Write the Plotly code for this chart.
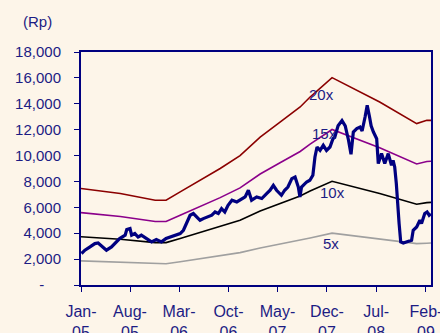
import plotly.graph_objects as go

# --- Share price (Rp) ---
price_dates = [
    "2005-01-03","2005-01-18","2005-02-09","2005-03-02","2005-03-16","2005-04-07","2005-04-21",
    "2005-05-13","2005-05-27","2005-06-17","2005-07-11","2005-07-18","2005-08-01","2005-08-08",
    "2005-08-22","2005-09-05","2005-09-19","2005-10-11","2005-11-02","2005-11-23","2005-12-15",
    "2006-01-04","2006-01-20","2006-02-13","2006-03-06","2006-03-20","2006-04-04","2006-04-18",
    "2006-05-02","2006-05-17","2006-05-31","2006-06-14","2006-06-29","2006-07-21","2006-08-04",
    "2006-08-18","2006-09-01","2006-09-15","2006-09-29","2006-10-16","2006-11-06","2006-11-20",
    "2006-12-12","2006-12-26","2007-01-09","2007-01-31","2007-02-22","2007-03-15","2007-03-30",
    "2007-04-13","2007-04-27","2007-05-18","2007-06-01","2007-06-15","2007-07-02","2007-07-16",
    "2007-07-30","2007-08-06","2007-08-13","2007-09-04","2007-09-18","2007-10-01","2007-10-10",
    "2007-10-19","2007-11-01","2007-11-15","2007-11-29","2007-12-14","2007-12-27","2008-01-04",
    "2008-01-18","2008-02-04","2008-02-18","2008-03-03","2008-03-14","2008-03-24","2008-04-08",
    "2008-04-22","2008-05-01","2008-05-14","2008-05-23","2008-06-02","2008-06-09","2008-06-19",
    "2008-07-03","2008-07-10","2008-07-24","2008-08-07","2008-08-22","2008-09-05","2008-09-12",
    "2008-09-19","2008-09-26","2008-10-08","2008-10-15","2008-10-26","2008-11-10","2008-11-19",
    "2008-12-01","2008-12-08","2008-12-23","2009-01-06","2009-01-13","2009-01-27","2009-02-06",
    "2009-02-15","2009-02-22",
]
price_values = [
    2430, 2690, 2940, 3200, 3250, 2940, 2690,
    2940, 3200, 3590, 3845, 4285, 4360, 3845,
    3975, 3710, 3845, 3590, 3330, 3510, 3330,
    3600, 3710, 3845, 3975, 4230, 4870, 5390,
    5520, 5260, 5000, 5130, 5260, 5390, 5640,
    5520, 5900, 5640, 6160, 6550, 6415, 6550,
    6800, 7320, 6550, 6800, 6680, 7060, 7320,
    7700, 7320, 6930, 7320, 7570, 8220, 8345,
    7570, 6800, 7570, 7960, 8090, 8480, 9890,
    10660, 10400, 10790, 10400, 10660, 11300, 11430,
    12300, 12700, 12300, 11200, 10100, 11820, 12080,
    12200, 11900, 13000, 13880, 13000, 12300, 11820,
    11300, 9380, 10150, 9380, 10150, 9250, 9635,
    9117, 7835, 4750, 3330, 3250, 3330, 3400,
    3460, 4230, 4485, 5000, 4750, 5520, 5640,
    5390, 5500,
]

# --- P/E band lines (Rp) ---
band_dates = [
    "2005-01-01","2005-06-20","2005-11-18","2006-01-04","2006-03-06","2006-05-31",
    "2006-08-26","2006-11-20","2007-02-15","2007-05-12","2007-08-07","2007-09-19",
    "2007-12-23","2008-07-16","2008-12-23","2009-02-05","2009-02-23",
]
band_20x = [7450, 7064, 6547, 6547, 7190, 8090, 9000, 10000, 11430, 12590, 13750, 14520, 16020, 14135, 12470, 12720, 12720]
band_15x = [5588, 5298, 4910, 4910, 5393, 6068, 6750, 7500, 8573, 9443, 10313, 10890, 12015, 10601, 9353, 9540, 9560]
band_10x = [3725, 3532, 3274, 3274, 3595, 4045, 4500, 5000, 5715, 6295, 6875, 7260, 8010, 7068, 6235, 6360, 6380]
band_5x = [1863, 1766, 1637, 1637, 1798, 2023, 2250, 2500, 2858, 3148, 3438, 3630, 4005, 3560, 3200, 3230, 3240]

band_names = ["20x", "15x", "10x", "5x"]
band_label_x = ["2007-11-08", "2007-11-21", "2007-12-26", "2007-12-17"]
band_label_y = [14730, 11720, 7164, 3227]

x_tick_vals = ["2005-01-01","2005-08-01","2006-03-01","2006-10-01","2007-05-01","2007-12-01","2008-07-01","2009-02-01"]
x_tick_text = ["Jan-<br>05","Aug-<br>05","Mar-<br>06","Oct-<br>06","May-<br>07","Dec-<br>07","Jul-<br>08","Feb-<br>09"]
y_tick_vals = [0, 2000, 4000, 6000, 8000, 10000, 12000, 14000, 16000, 18000]
BG = "#FDF5E9"
y_tick_text = ["-<span style='color:%s'>00</span>" % BG, "2,000", "4,000", "6,000", "8,000",
               "10,000", "12,000", "14,000", "16,000", "18,000"]

NAVY = "#000080"
TEXT = "#1c1c84"
FONT = "Liberation Sans, Arial, sans-serif"

fig = go.Figure()
band_series = [band_20x, band_15x, band_10x, band_5x]
band_colors = ["#8B0000", "#8B008B", "#000000", "#A0A0A0"]
for vals, col, name in zip(band_series, band_colors, band_names):
    fig.add_trace(go.Scatter(x=band_dates, y=vals, mode="lines", name=name,
                             line=dict(color=col, width=1.6), hoverinfo="skip"))
fig.add_trace(go.Scatter(x=price_dates, y=price_values, mode="lines", name="Price",
                         line=dict(color=NAVY, width=3.2)))

for name, lx, ly in zip(band_names, band_label_x, band_label_y):
    fig.add_annotation(x=lx, y=ly, text=name, showarrow=False,
                       font=dict(family=FONT, size=15, color=TEXT))

fig.add_annotation(xref="paper", yref="paper", x=-0.125, y=1.13, text="(Rp)",
                   showarrow=False, xanchor="center", yanchor="middle",
                   font=dict(family=FONT, size=15, color=TEXT))

fig.update_layout(
    template="none",
    width=440, height=333,
    margin=dict(l=81, r=9, t=52, b=48),
    paper_bgcolor=BG, plot_bgcolor=BG,
    showlegend=False,
    font=dict(family=FONT, size=15, color=TEXT),
    xaxis=dict(type="date", range=["2005-01-01", "2009-02-23"], automargin=False,
               tickmode="array", tickvals=x_tick_vals, ticktext=x_tick_text,
               ticks="outside", ticklen=5, tickwidth=1, tickcolor=NAVY,
               showline=True, linecolor=NAVY, linewidth=2, mirror=True,
               showgrid=False, zeroline=False, tickangle=0, ticklabelstandoff=6,
               ticklabeloverflow="allow",
               tickfont=dict(family=FONT, size=16, color=TEXT)),
    yaxis=dict(range=[0, 18000], tickmode="array", tickvals=y_tick_vals, ticktext=y_tick_text,
               automargin=False,
               ticks="outside", ticklen=5, tickwidth=1, tickcolor=NAVY,
               showline=True, linecolor=NAVY, linewidth=2, mirror=True,
               showgrid=False, zeroline=False, ticklabelstandoff=10,
               tickfont=dict(family=FONT, size=15, color=TEXT)),
)

fig.write_html("out.html")
